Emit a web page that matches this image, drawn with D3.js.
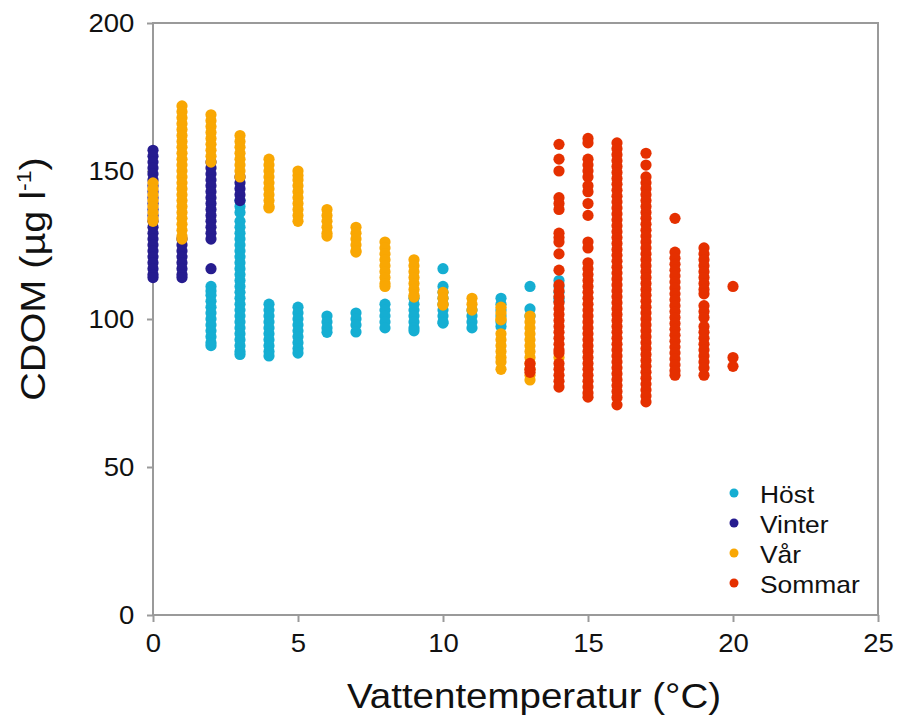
<!DOCTYPE html>
<html lang="sv">
<head>
<meta charset="utf-8">
<title>CDOM mot vattentemperatur</title>
<script src="https://d3js.org/d3.v7.min.js"></script>
<style>
  body { margin: 0; background: #fff; }
  text { font-family: "Liberation Sans", Arial, sans-serif; fill: #111; }
</style>
</head>
<body>
<div id="chart"></div>
<script>
  var w = 901, h = 720;
  var plotLeft = 153, plotRight = 878, plotTop = 23, plotBottom = 615;

  // tick values
  var xTicks = [0, 5, 10, 15, 20, 25];
  var yTicks = [0, 50, 100, 150, 200];

  // Höst (autumn)
  var hostTemps = [2, 3, 4, 5, 6, 7, 8, 9, 10, 11, 12, 13, 14];
  var hostCdom = [
    [111, 109.5, 108, 106, 104, 102, 100, 98, 96, 94, 92, 91],
    [140, 138, 136, 133, 131, 129, 127, 125, 123, 121, 119, 117, 115, 113, 111, 109, 107, 105, 103, 101, 99, 97, 95, 93, 91, 89, 88],
    [105, 103, 101, 99, 97, 95, 93, 91, 89, 87.5],
    [104, 102, 100, 98, 96, 94, 92, 90, 88.5],
    [101, 99, 97, 95.5],
    [102, 100, 98, 95.6],
    [105, 103, 101, 99, 97],
    [107, 105, 103, 101, 99, 97, 96],
    [117, 111, 109, 107, 105, 103, 101, 99, 98.6],
    [103, 101, 99, 97],
    [107, 105, 103, 101, 99, 97.5],
    [111, 103.4, 101],
    [113, 111, 109, 107, 106]
  ];

  // Vinter (winter)
  var vinterTemps = [0, 1, 2, 3];
  var vinterCdom = [
    [157, 155, 153, 151, 149, 147, 145, 143, 141, 139, 137, 135, 133, 131, 129, 127, 125, 123, 121, 119, 117, 115, 114],
    [127, 125, 123, 121, 119, 117, 115, 114],
    [153, 151, 149, 147, 145, 143, 141, 139, 137, 135, 133, 131, 129, 127, 117],
    [148, 146, 144, 142, 140]
  ];

  // Vår (spring)
  var varTemps = [0, 1, 2, 3, 4, 5, 6, 7, 8, 9, 10, 11, 12, 13, 14];
  var varCdom = [
    [146, 144, 142, 140, 138, 136, 134, 133],
    [172, 170, 168, 166, 164, 162, 160, 158, 156, 154, 152, 150, 148, 146, 144, 142, 140, 138, 136, 134, 132, 130, 128, 127],
    [169, 167, 165, 163, 161, 159, 157, 155, 153],
    [162, 160, 158, 156, 154, 152, 150, 148],
    [154, 152, 150, 148, 146, 144, 142, 140, 138, 137.5],
    [150, 148.5, 147, 145, 143, 141, 139, 137, 135, 133],
    [137, 135, 133, 131, 129, 128],
    [131, 129, 127, 125, 123, 122.6],
    [126, 124, 122, 120, 118, 116, 114, 112, 111],
    [120, 118, 116, 114, 112, 110, 108, 107.4],
    [109, 107, 105, 104.7],
    [107, 105, 103],
    [104, 102, 100, 99.7, 95, 93, 91, 89, 87, 85.5, 83],
    [101, 99, 97, 95, 93, 91, 89, 87, 85, 83, 81, 79.4],
    [87]
  ];

  // Sommar (summer)
  var sommarTemps = [13, 14, 15, 16, 17, 18, 19, 20];
  var sommarCdom = [
    [85, 83, 82],
    [159, 154, 150, 141, 139, 137, 129, 127.5, 126, 122, 116.5, 111.5, 109.5, 107.5, 105.5, 103.5, 101.5, 99.5, 97.5, 95.5, 93.5, 91.5, 89.5, 88.5, 85, 83, 81, 79, 77],
    [161, 159.5, 154, 152, 150, 148, 145, 143, 139, 135, 126, 124, 119, 117, 115, 113, 111, 109, 107, 105, 103, 101, 99, 97, 95, 93, 91, 89, 87, 85, 83, 81, 79, 77, 75, 73.6],
    [159.5, 157.5, 155.5, 153.5, 151.5, 149.5, 147.5, 145.5, 143.5, 141.5, 139.5, 137.5, 135.5, 133.5, 131.5, 129.5, 127.5, 125.5, 123.5, 121.5, 119.5, 117.5, 115.5, 113.5, 111.5, 109.5, 107.5, 105.5, 103.5, 101.5, 99.5, 97.5, 95.5, 93.5, 91.5, 89.5, 87.5, 85.5, 83.5, 81.5, 79.5, 77.5, 75.5, 73.5, 71],
    [156, 152, 148, 146, 144, 142, 140, 138, 136, 134, 132, 130, 128, 126, 124, 122, 120, 118, 116, 114, 112, 110, 108, 106, 104, 102, 100, 98, 96, 94, 92, 90, 88, 86, 84, 82, 80, 78, 76, 74, 72],
    [134, 122.6, 120.5, 118.5, 116.5, 114.5, 112.5, 110.5, 108.5, 106.5, 104.5, 102.5, 100.5, 98.5, 96.5, 94.5, 92.5, 90.5, 88.5, 86.5, 84.5, 82.5, 81],
    [124, 122, 120, 118, 116, 114, 112, 110, 108.5, 104.5, 102.5, 100.5, 97.5, 95.5, 93.5, 91.5, 89.5, 87.5, 85.5, 83.5, 81],
    [111, 87, 84]
  ];

  var seasons = [
    { name: "Höst", color: "#15aed2", temps: hostTemps, cdom: hostCdom },
    { name: "Vinter", color: "#261c8f", temps: vinterTemps, cdom: vinterCdom },
    { name: "Vår", color: "#f9a703", temps: varTemps, cdom: varCdom },
    { name: "Sommar", color: "#e53000", temps: sommarTemps, cdom: sommarCdom }
  ];

  var xScale = d3.scaleLinear().domain([0, 25]).range([plotLeft, plotRight]);
  var yScale = d3.scaleLinear().domain([0, 200]).range([plotBottom, plotTop]);

  var svg = d3.select("#chart").append("svg")
    .attr("width", w)
    .attr("height", h);

  // frame
  svg.append("rect")
    .attr("x", plotLeft).attr("y", plotTop)
    .attr("width", plotRight - plotLeft).attr("height", plotBottom - plotTop)
    .attr("fill", "none")
    .attr("stroke", "#9a9a9a")
    .attr("stroke-width", 2);

  var xAxis = d3.axisBottom(xScale).tickValues(xTicks).tickSize(7).tickPadding(12);
  var yAxis = d3.axisLeft(yScale).tickValues(yTicks).tickSize(6).tickPadding(12);

  var gx = svg.append("g")
    .attr("transform", "translate(0," + plotBottom + ")")
    .call(xAxis);
  var gy = svg.append("g")
    .attr("transform", "translate(" + plotLeft + ",0)")
    .call(yAxis);

  [gx, gy].forEach(function(g) {
    g.select(".domain").remove();
    g.selectAll(".tick line").attr("stroke", "#9a9a9a").attr("stroke-width", 2);
    g.selectAll(".tick text")
      .attr("font-family", "Liberation Sans, Arial, sans-serif")
      .attr("font-size", 25)
      .attr("fill", "#111");
  });
  gx.selectAll(".tick text").attr("dy", "0.71em").attr("transform", "scale(1.1,1)");
  gy.selectAll(".tick text").attr("transform", "scale(1.1,1)").attr("x", -17);

  // dots
  seasons.forEach(function(s) {
    var pts = [];
    s.temps.forEach(function(t, i) {
      s.cdom[i].forEach(function(v) { pts.push([t, v]); });
    });
    svg.append("g").selectAll("circle")
      .data(pts)
      .enter()
      .append("circle")
      .attr("cx", d => xScale(d[0]))
      .attr("cy", d => yScale(d[1]))
      .attr("r", 5.6)
      .attr("fill", s.color);
  });

  // axis titles
  svg.append("text")
    .attr("text-anchor", "middle")
    .attr("transform", "translate(534,708) scale(1.1,1)")
    .attr("font-size", 35)
    .text("Vattentemperatur (°C)");

  var yt = svg.append("text")
    .attr("text-anchor", "middle")
    .attr("transform", "translate(45,279) rotate(-90) scale(1.1,1)")
    .attr("font-size", 36);
  yt.append("tspan").text("CDOM (µg l");
  yt.append("tspan").attr("font-size", 21).attr("dy", -14).text("-1");
  yt.append("tspan").attr("dy", 14).text(")");

  // legend
  var legend = svg.append("g");
  seasons.forEach(function(s, i) {
    var yy = 503 + i * 30;
    legend.append("circle")
      .attr("cx", 734).attr("cy", yy - 10)
      .attr("r", 4.5)
      .attr("fill", s.color);
    legend.append("text")
      .attr("transform", "translate(760," + yy + ") scale(1.1,1)")
      .attr("font-size", 24)
      .text(s.name);
  });
</script>
</body>
</html>
